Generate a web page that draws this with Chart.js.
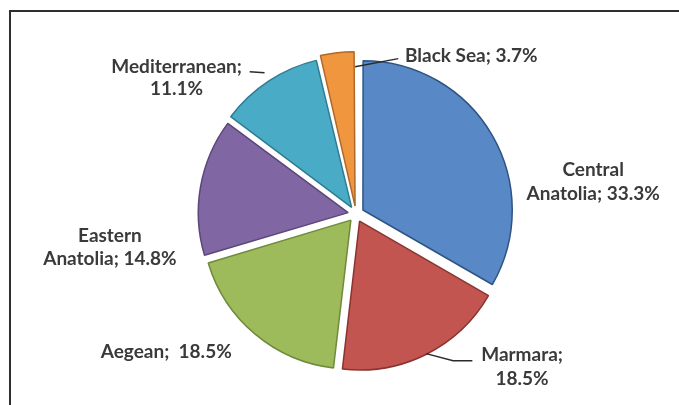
<!DOCTYPE html>
<html><head><meta charset="utf-8">
<script src="https://cdn.jsdelivr.net/npm/chart.js@4/dist/chart.umd.min.js"></script>
<style>
html,body{margin:0;padding:0;background:#fff;overflow:hidden}
#wrap{position:relative;width:679px;height:405px;overflow:hidden}
#frame{position:absolute;left:9px;top:10px;width:700px;height:500px;border-top:2px solid #2e2e2e;border-left:2px solid #2e2e2e}
#c{position:absolute;left:0;top:0}
</style></head><body>
<div id="wrap"><div id="frame"></div><canvas id="c" width="679" height="405"></canvas></div>
<script>
const categories = ['Central Anatolia', 'Marmara', 'Aegean', 'Eastern Anatolia', 'Mediterranean', 'Black Sea'];
const shares = [33.3, 18.5, 18.5, 14.8, 11.1, 3.7];
const labelLines = [
  ['Central', 'Anatolia; 33.3%'],
  ['Marmara;', '18.5%'],
  ['Aegean;  18.5%'],
  ['Eastern', 'Anatolia; 14.8%'],
  ['Mediterranean;', '11.1%'],
  ['Black Sea; 3.7%']
];
const fillColors = ['#5889c6', '#c2554f', '#9dbb5a', '#8166a4', '#4aabc6', '#f0963f'];
const edgeColors = ['#2f5482', '#8a3431', '#6f8a3a', '#5a4678', '#2f7c91', '#b0682a'];

// label placement in units of the pie radius, relative to the pie centre
const labelPlacement = [
  {pos: [1.60, -0.22], align: 'center', lh: 24},
  {pos: [1.12, 1.03], align: 'center', lh: 24,
   leader: {from: {t: 0.5, rf: 1.0}, pts: [[0.655, 0.99], [0.785, 0.99]]}},
  {pos: [-1.28, 0.93], align: 'center', lh: 23},
  {pos: [-1.66, 0.225], align: 'center', lh: 23},
  {pos: [-1.21, -0.92], align: 'center', lh: 22,
   leader: {pts: [[-0.717, -0.96], [-0.617, -0.953]]}},
  {pos: [0.33, -1.068], align: 'left', lh: 22,
   leader: {from: {t: 1.0, rf: 0.94}, pts: [[0.285, -1.048]]}}
];

// Chart.js translates each arc by offset/4
const OFFSET = 32;

const labelPlugin = {
  id: 'pieLabels',
  afterDatasetsDraw(chart) {
    const meta = chart.getDatasetMeta(0);
    const ctx = chart.ctx;
    const a0 = meta.data[0];
    const cx = a0.x, cy = a0.y, r = a0.outerRadius;
    ctx.save();
    ctx.font = 'bold 19px Lato';
    ctx.fillStyle = '#3a3a3a';
    ctx.textBaseline = 'middle';
    labelPlacement.forEach((p, i) => {
      const arc = meta.data[i];
      if (p.leader) {
        ctx.beginPath();
        ctx.strokeStyle = '#2a2a2a';
        ctx.lineWidth = 1.5;
        let started = false;
        if (p.leader.from) {
          const mid = (arc.startAngle + arc.endAngle) / 2;
          const ox = arc.x + Math.cos(mid) * OFFSET / 4;
          const oy = arc.y + Math.sin(mid) * OFFSET / 4;
          const ang = arc.startAngle + (arc.endAngle - arc.startAngle) * p.leader.from.t;
          const rr = arc.outerRadius * p.leader.from.rf;
          ctx.moveTo(ox + Math.cos(ang) * rr, oy + Math.sin(ang) * rr);
          started = true;
        }
        p.leader.pts.forEach(q => {
          const x = cx + q[0] * r, y = cy + q[1] * r;
          if (!started) { ctx.moveTo(x, y); started = true; } else ctx.lineTo(x, y);
        });
        ctx.stroke();
      }
      const lines = labelLines[i];
      const bx = cx + p.pos[0] * r;
      const by = cy + p.pos[1] * r;
      ctx.textAlign = p.align;
      const n = lines.length;
      lines.forEach((t, k) => {
        ctx.fillText(t, bx, by + (k - (n - 1) / 2) * p.lh);
      });
    });
    ctx.restore();
  }
};

new Chart(document.getElementById('c'), {
  type: 'pie',
  data: {
    labels: categories,
    datasets: [{
      data: shares,
      backgroundColor: fillColors,
      borderColor: edgeColors,
      borderWidth: 1.5,
      offset: OFFSET,
      hoverOffset: 0
    }]
  },
  options: {
    responsive: false,
    animation: false,
    layout: {padding: {top: 49, bottom: 26, left: 138, right: 105}},
    plugins: {legend: {display: false}, tooltip: {enabled: false}}
  },
  plugins: [labelPlugin]
});
</script>
</body></html>
